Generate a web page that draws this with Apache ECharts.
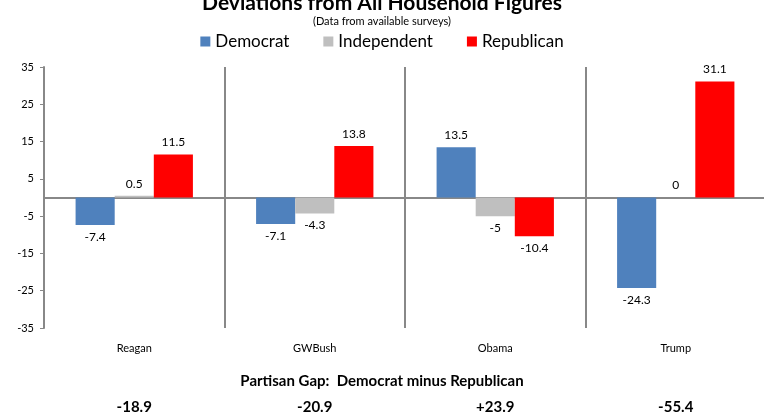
<!DOCTYPE html>
<html><head><meta charset="utf-8">
<script src="https://cdn.jsdelivr.net/npm/echarts@6/dist/echarts.min.js"></script>
<style>html,body{margin:0;padding:0;background:#fff}#c{width:764px;height:415px}</style>
</head><body><div id="c"></div>
<script>
const categories = ['Reagan', 'GWBush', 'Obama', 'Trump'];
const democrat = [-7.4, -7.1, 13.5, -24.3];
const independent = [0.5, -4.3, -5, 0];
const republican = [11.5, 13.8, -10.4, 31.1];
const partisanGap = ['-18.9', '-20.9', '+23.9', '-55.4'];
const yTicks = [-35, 35, 10];

const FONT = 'Lato, "Liberation Sans", sans-serif';
function mk(vals) {
  return vals.map(v => ({ value: v, label: { position: v < 0 ? 'bottom' : 'top' } }));
}
const lbl = { show: true, color: '#000', fontSize: 12, fontFamily: FONT, distance: 6 };
const chart = echarts.init(document.getElementById('c'));
chart.setOption({
  animation: false,
  title: [
    { text: 'Deviations from All Household Figures', left: 'center', top: -12,
      textStyle: { fontSize: 21, fontWeight: 'bold', fontFamily: FONT, color: '#000' } },
    { text: '(Data from available surveys)', left: 'center', top: 11,
      textStyle: { fontSize: 11, fontWeight: 'normal', fontFamily: FONT, color: '#000' } },
    { text: 'Partisan Gap:  Democrat minus Republican', left: 'center', top: 369,
      textStyle: { fontSize: 15, fontWeight: 'bold', fontFamily: FONT, color: '#000' } }
  ],
  legend: {
    top: 28, left: 'center', itemWidth: 10, itemHeight: 10, itemGap: 34,
    icon: 'rect',
    textStyle: { fontSize: 17, fontFamily: FONT, color: '#000' },
    data: ['Democrat', 'Independent', 'Republican']
  },
  grid: { left: 44, right: -2, top: 67, bottom: 87, outerBoundsMode: 'none', containLabel: false },
  xAxis: [{
    type: 'category', data: categories,
    axisLine: { onZero: true, lineStyle: { color: '#888', width: 2 } },
    axisTick: { show: false },
    axisLabel: { show: false },
    splitLine: { show: true, lineStyle: { color: '#888', width: 2 } }
  }, {
    type: 'category', data: categories, position: 'bottom', offset: 7,
    axisLine: { show: false }, axisTick: { show: false },
    axisLabel: { color: '#000', fontSize: 11, fontFamily: FONT }
  }, {
    type: 'category', data: partisanGap, position: 'bottom', offset: 64,
    axisLine: { show: false }, axisTick: { show: false },
    axisLabel: { color: '#000', fontSize: 15, fontWeight: 'bold', fontFamily: FONT }
  }],
  yAxis: {
    type: 'value', min: yTicks[0], max: yTicks[1], interval: yTicks[2],
    axisLine: { show: true, lineStyle: { color: '#888', width: 2 } },
    axisTick: { show: true, length: 4, lineStyle: { color: '#888' } },
    axisLabel: { color: '#000', fontSize: 11, fontFamily: FONT, margin: 10 },
    splitLine: { show: false }
  },
  series: [
    { name: 'Democrat', type: 'bar', data: mk(democrat), itemStyle: { color: '#4f81bd' },
      barGap: '0%', barCategoryGap: '35%', label: lbl },
    { name: 'Independent', type: 'bar', data: mk(independent), itemStyle: { color: '#bfbfbf' },
      label: lbl },
    { name: 'Republican', type: 'bar', data: mk(republican), itemStyle: { color: '#ff0000' },
      label: lbl }
  ]
});
</script></body></html>
